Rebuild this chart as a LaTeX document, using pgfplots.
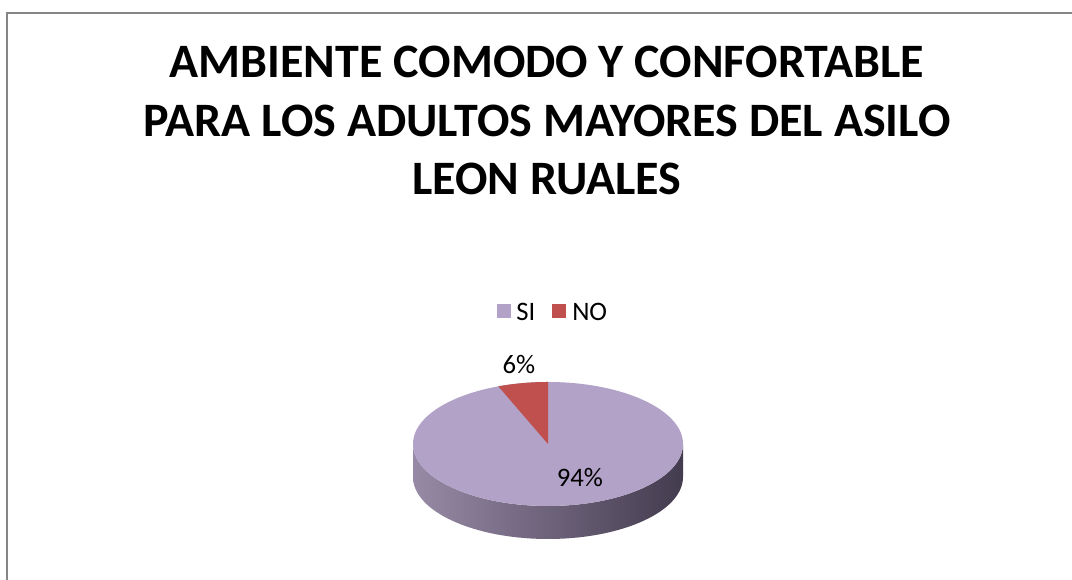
\documentclass[border=0pt]{standalone}
\usepackage{pgfplots}
\pgfplotsset{compat=1.18}
\usepackage{pgfplotstable}
\usepackage{fontspec}
\setmainfont{Carlito}

\definecolor{siColor}{HTML}{B2A2C7}
\definecolor{noColor}{HTML}{C0504D}
\definecolor{frameGray}{HTML}{868686}
\definecolor{sideL}{HTML}{978AA6}
\definecolor{sideM}{HTML}{6A5F78}
\definecolor{sideR}{HTML}{433B4E}

% share of answers, per cent
\pgfplotstableread{
label value
SI 94
NO 6
}\piedata

\begin{document}
\begin{tikzpicture}
\pgfplotstablegetelem{0}{value}\of\piedata \let\valSI\pgfplotsretval
\pgfplotstablegetelem{1}{value}\of\piedata \let\valNO\pgfplotsretval
% Excel starts at 12 o'clock, clockwise: NO is the last slice, just left of the top
\pgfmathsetmacro{\angNO}{90+3.6*\valNO}
\begin{axis}[
  x=0.75pt, y=0.75pt,
  xmin=0, xmax=1072, ymin=0, ymax=580,
  enlargelimits=false, hide axis, clip=false,
]
% chart frame (right and bottom edges fall outside the picture)
\draw[frameGray, line width=1.1pt] (axis cs:7,-10) -- (axis cs:7,567) -- (axis cs:1085,567);

% title
\node[anchor=base, font=\fontsize{36}{44}\selectfont\bfseries] at (axis cs:547,502) {AMBIENTE COMODO Y CONFORTABLE};
\node[anchor=base, font=\fontsize{36}{44}\selectfont\bfseries] at (axis cs:547,443) {PARA LOS ADULTOS MAYORES DEL ASILO};
\node[anchor=base, font=\fontsize{36}{44}\selectfont\bfseries] at (axis cs:547,385) {LEON RUALES};

% legend
\fill[siColor] (axis cs:497,262) rectangle (axis cs:511,276);
\node[anchor=west, inner sep=0pt, font=\fontsize{20}{22}\selectfont] at (axis cs:516,268) {SI};
\fill[noColor] (axis cs:552,262) rectangle (axis cs:566,276);
\node[anchor=west, inner sep=0pt, font=\fontsize{20}{22}\selectfont] at (axis cs:572,268) {NO};

% pie side
\shade[left color=sideL, middle color=sideM, right color=sideR]
  (axis cs:413,136) arc[start angle=180, end angle=360, x radius=101.25pt, y radius=46.5pt]
  -- ++(0pt,-24.75pt)
  arc[start angle=0, end angle=-180, x radius=101.25pt, y radius=46.5pt] -- cycle;
% pie top
\fill[siColor] (axis cs:548,136) ellipse[x radius=101.25pt, y radius=46.5pt];
\fill[noColor] (axis cs:548,136) -- (axis cs:548,198)
  arc[start angle=90, end angle=\angNO, x radius=101.25pt, y radius=46.5pt] -- cycle;

% data labels
\node[font=\fontsize{20}{22}\selectfont] at (axis cs:519,215) {\valNO\%};
\node[font=\fontsize{20}{22}\selectfont] at (axis cs:580,102) {\valSI\%};
\end{axis}
\pgfresetboundingbox
\path (0,0) rectangle (804pt,435pt);
\end{tikzpicture}
\end{document}
